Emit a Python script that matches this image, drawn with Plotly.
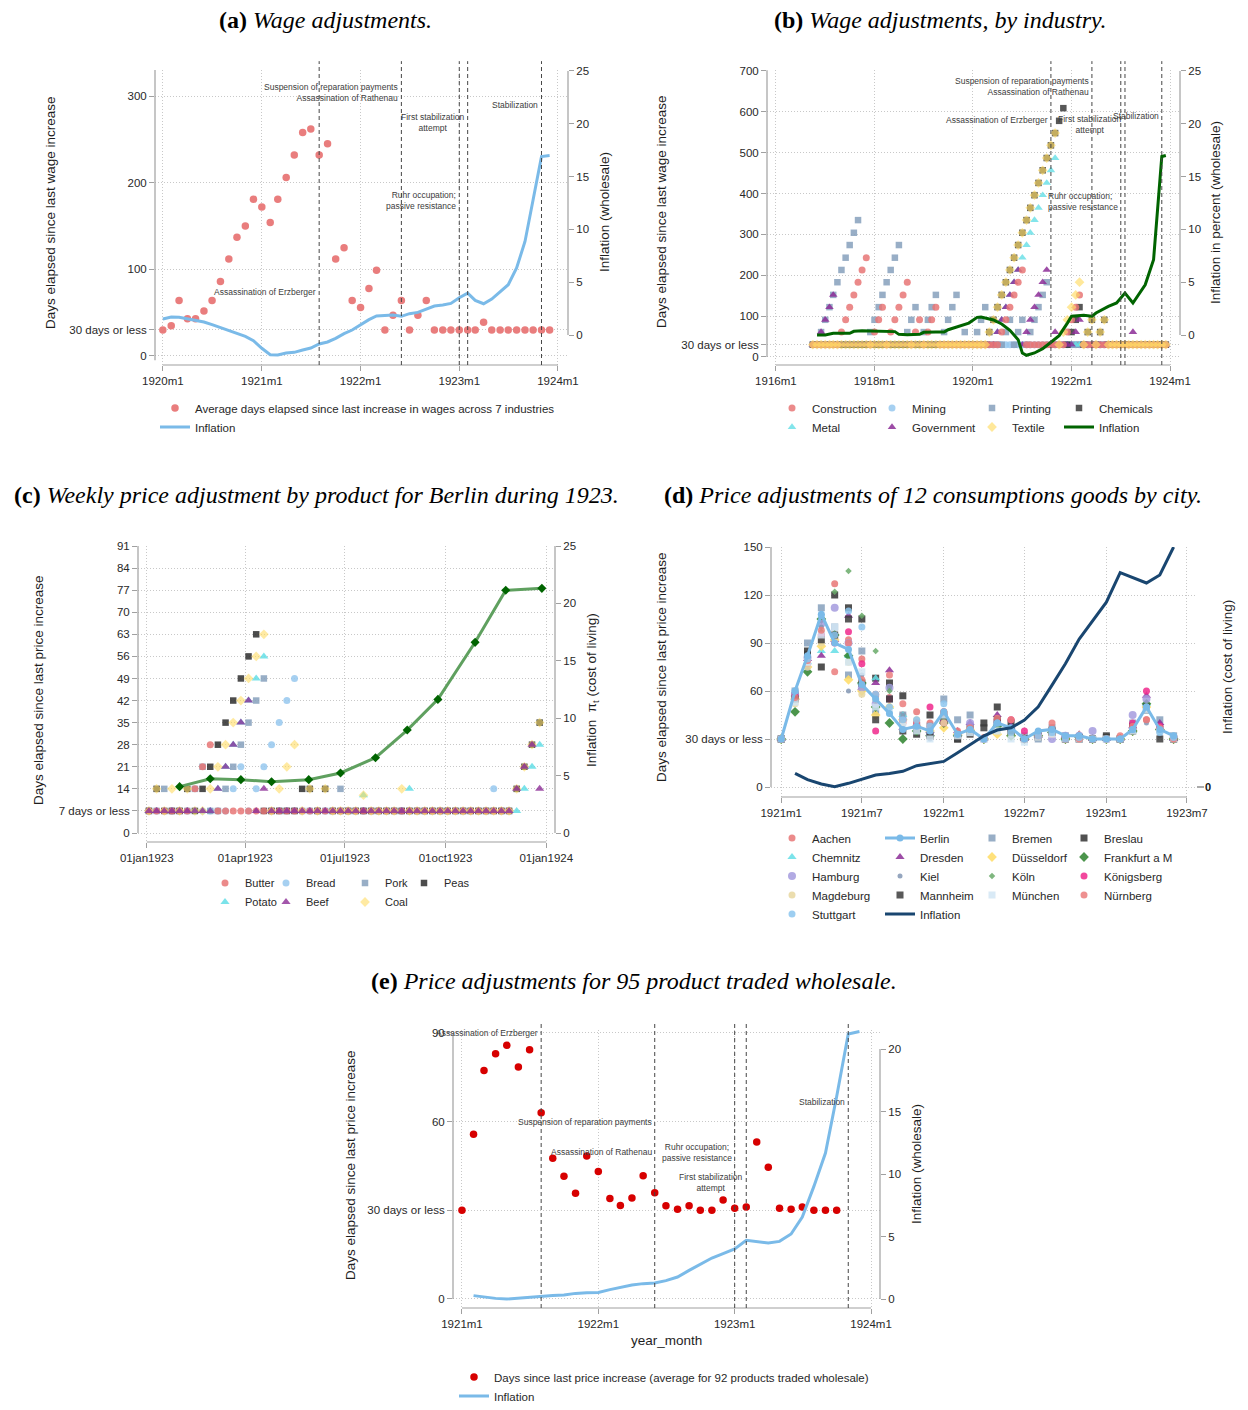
import plotly.graph_objects as go
import pandas as pd

# The page body adds an 8px margin, so the figure is drawn 8px smaller and
# every reference pixel position is shifted by that margin.
OFF = 8
W, H = 1248 - 2 * OFF, 1410 - 2 * OFF
def px(x): return (x - OFF) / W
def py(y): return 1 - (y - OFF) / H

FONT = 'Liberation Sans'
SERIF = 'Liberation Serif'
TXT = 'rgb(40,40,40)'
GRID = 'rgb(200,200,200)'
GRIDDASH = '1px,2px'
AXC = 'rgb(160,160,160)'
EVC = 'rgb(70,70,70)'

# ======================= (a) Wage adjustments =======================
months_a = pd.date_range('1920-01-01', periods=48, freq='MS')
wage_days_a = [30, 35, 64, 43, 43, 52, 64, 86, 112, 137,
               150, 181, 172, 154, 181, 206, 232, 258, 262, 232,
               245, 112, 125, 64, 56, 78, 99, 30, 47, 64,
               30, 47, 64, 30, 30, 30, 30, 30, 30, 39,
               30, 30, 30, 30, 30, 30, 30, 30]
inflation_a = [1.51, 1.70, 1.67, 1.54, 1.39, 1.23, 0.98, 0.69, 0.44, 0.16,
               -0.13, -0.54, -1.26, -1.86, -1.89, -1.70, -1.64, -1.42, -1.23, -0.85,
               -0.66, -0.32, 0.13, 0.47, 0.98, 1.45, 1.80, 1.86, 1.89, 1.77,
               2.02, 2.14, 2.46, 2.74, 2.84, 2.99, 3.53, 3.97, 3.28, 2.96,
               3.40, 4.10, 4.76, 6.34, 8.86, 12.8, 16.9, 17.0]

# ======================= (b) Wage adjustments by industry =======================
months_b = pd.date_range('1916-10-01', periods=87, freq='MS')
construction_b = [30, 30, 30,
                  30, 30, 30, 30, 61, 91, 122, 152, 183, 213, 243, 30,
                  61, 91, 122, 30, 61, 91, 122, 152, 183, 30, 61, 91,
                  30, 61, 91, 122, 30, 30, 30, 30, 30, 30, 30, 30,
                  30, 30, 30, 30, 30, 30, 30, 61, 91, 122, 152, 183,
                  213, 30, 30, 30, 30, 30, 30, 30, 30, 30, 30, 61,
                  91, 122, 152, 30, 30, 30, 30, 30, 30, 30, 30, 30,
                  30, 30, 30, 30, 30, 30, 30, 30, 30, 30, 30, 30]
mining_b = [30, 30, 30,
            30, 30, 30, 30, 30, 30, 30, 30, 30, 30, 30, 30,
            30, 30, 30, 30, 30, 30, 30, 30, 30, 30, 30, 30,
            30, 30, 30, 30, 30, 30, 30, 30, 30, 30, 30, 30,
            30, 30, 30, 30, 30, 30, 30, 30, 30, 30, 30, 30,
            30, 30, 30, 30, 30, 30, 30, 30, 30, 30, 30, 30,
            30, 30, 30, 30, 30, 30, 30, 30, 30, 30, 30, 30,
            30, 30, 30, 30, 30, 30, 30, 30, 30, 30, 30, 30]
printing_b = [30, 30, 61,
              91, 122, 152, 183, 213, 243, 274, 304, 335, 30, 30, 61,
              91, 122, 152, 183, 213, 243, 274, 30, 61, 91, 122, 30,
              61, 91, 122, 152, 30, 61, 91, 122, 152, 30, 61, 30,
              30, 61, 91, 122, 30, 30, 30, 30, 61, 91, 30, 61,
              91, 30, 61, 91, 122, 152, 183, 30, 30, 30, 30, 30,
              30, 30, 30, 30, 30, 30, 30, 30, 30, 30, 30, 30,
              30, 30, 30, 30, 30, 30, 30, 30, 30, 30, 30, 30]
chemicals_b = [30, 30, 30,
               30, 30, 30, 30, 30, 30, 30, 30, 30, 30, 30, 30,
               30, 30, 30, 30, 30, 30, 30, 30, 30, 30, 30, 30,
               30, 30, 30, 30, 30, 30, 30, 30, 30, 30, 30, 30,
               30, 30, 30, 30, 61, 91, 122, 152, 183, 213, 243, 274,
               304, 335, 365, 396, 426, 457, 487, 518, 548, 578, 609, 30,
               61, 91, 122, 30, 61, 91, 30, 61, 91, 30, 30, 30,
               30, 30, 30, 30, 30, 30, 30, 30, 30, 30, 30, 30]
metal_b = [30, 30, 30,
           30, 30, 30, 30, 30, 30, 30, 30, 30, 30, 30, 30,
           30, 30, 30, 30, 30, 30, 30, 30, 30, 30, 30, 30,
           30, 30, 30, 30, 30, 30, 30, 30, 30, 30, 30, 30,
           30, 30, 30, 30, 30, 30, 61, 91, 122, 152, 183, 213,
           243, 274, 304, 335, 365, 396, 426, 457, 487, 30, 30, 30,
           30, 30, 30, 30, 30, 30, 30, 30, 30, 30, 30, 30,
           30, 30, 30, 30, 30, 30, 30, 30, 30, 30, 30, 30]
government_b = [30, 30, 61,
                91, 122, 152, 30, 30, 30, 30, 30, 30, 30, 30, 30,
                30, 30, 30, 30, 30, 30, 30, 30, 30, 30, 30, 30,
                30, 30, 30, 30, 30, 30, 30, 30, 30, 30, 30, 30,
                30, 30, 30, 30, 30, 30, 61, 91, 122, 152, 183, 213,
                30, 61, 91, 122, 152, 183, 213, 30, 61, 30, 30, 30,
                30, 61, 91, 30, 30, 30, 30, 30, 30, 30, 30, 30,
                30, 30, 30, 61, 30, 30, 30, 30, 30, 30, 30, 30]
textile_b = [30, 30, 30,
             30, 30, 30, 30, 30, 30, 30, 30, 30, 30, 30, 30,
             30, 30, 30, 30, 30, 30, 30, 30, 30, 30, 30, 30,
             30, 30, 30, 30, 30, 30, 30, 30, 30, 30, 30, 30,
             30, 30, 30, 30, 61, 91, 122, 152, 183, 213, 243, 274,
             304, 335, 365, 396, 426, 457, 487, 518, 548, 30, 61, 91,
             122, 152, 183, 30, 61, 91, 30, 61, 91, 30, 30, 30,
             30, 30, 30, 30, 30, 30, 30, 30, 30, 30, 30, 30]
infl_dates_b = ['1916-11-01', '1917-01-01', '1917-03-01', '1917-05-01', '1917-07-01',
                '1917-08-01', '1917-10-01', '1917-12-01', '1918-03-01', '1918-06-01',
                '1918-07-01', '1918-09-01', '1918-12-01', '1919-01-01', '1919-04-01',
                '1919-06-01', '1919-07-01', '1919-10-01', '1919-12-01', '1920-02-01',
                '1920-03-01', '1920-06-01', '1920-08-01', '1920-10-01', '1920-12-01',
                '1921-01-01', '1921-02-01', '1921-04-01', '1921-06-01', '1921-08-01',
                '1921-10-01', '1921-12-01', '1922-01-01', '1922-04-01', '1922-06-01',
                '1922-07-01', '1922-10-01', '1922-12-01', '1923-02-01', '1923-04-01',
                '1923-07-01', '1923-09-01', '1923-10-01', '1923-11-01', '1923-12-01']
infl_b = [0.0, 0.0, 0.16, 0.13, 0.16, 0.35, 0.41, 0.38, 0.35, 0.32,
          0.06, 0.03, 0.06, 0.25, 0.28, 0.28, 0.5, 0.88, 1.13, 1.67,
          1.70, 1.42, 1.04, 0.44, -0.44, -1.70, -1.92, -1.70, -1.29, -0.69,
          -0.06, 1.13, 1.77, 1.86, 1.77, 2.08, 2.71, 3.03, 3.97, 3.03,
          4.76, 7.12, 11.85, 16.9, 17.0]

# ======================= (c) Weekly prices, Berlin 1923 =======================
weeks_c = pd.date_range('1923-01-03', periods=52, freq='7D')
N = None
butter_c = [7, 7, 7, 7, 7, 7, 14, 21, 28, 7, 7, 7, 7,
            7, 7, 7, 7, 7, 7, 7, 7, 7, 7, 7, 7, 7,
            7, 7, 7, 7, 7, 7, 7, 7, 7, 7, 7, 7, 7,
            7, 7, 7, 7, 7, 7, 7, 7, 7, N, N, N, N]
bread_c = [7, 7, 7, 7, 7, 7, 7, 7, 7, 7, 7, 14, 21,
           7, 14, 21, 28, 35, 42, 49, 7, 7, 7, 7, 7, 7,
           7, 7, 7, 7, 7, 7, 7, 7, 7, 7, 7, 7, 7,
           7, 7, 7, 7, 7, 7, 14, 7, 7, N, N, N, 35]
pork_c = [7, 7, 14, 7, 7, 7, 14, 21, 7, 7, 14, 21, 28,
          35, 42, 49, 7, 7, 7, 7, 7, 7, 7, 7, 7, 14,
          7, 7, 7, 7, 7, 7, 7, 7, 7, 7, 7, 7, 7,
          7, 7, 7, 7, 7, 7, 7, 7, 7, N, N, N, N]
peas_c = [7, 14, 7, 7, 7, 14, 7, 14, 21, 28, 35, 42, 49,
          56, 63, 7, 7, 7, 7, 7, 14, 14, 7, 14, 7, 7,
          7, 7, 7, 7, 7, 7, 7, 7, 7, 7, 7, 7, 7,
          7, 7, 7, 7, 7, 7, 7, 7, 7, 14, 21, 28, 35]
potato_c = [7, 7, 7, 7, 7, 7, 7, 7, 7, 14, 21, 28, 35,
            42, 49, 56, 7, 7, 7, 7, 7, 7, 7, 7, 7, 7,
            7, 7, 12, 7, 7, 7, 7, 7, 14, 7, 7, 7, 7,
            7, 7, 7, 7, 7, 7, 7, 7, 7, 7, 14, 21, 28]
beef_c = [7, 7, 7, 7, 7, 7, 7, 7, 7, 14, 21, 28, 35,
          42, 7, 14, 7, 7, 7, 7, 7, 7, 7, 7, 7, 7,
          7, 7, 7, 7, 7, 7, 7, 7, 7, 7, 7, 7, 7,
          7, 7, 7, 7, 7, 7, 7, 7, 7, 14, 21, 28, 14]
coal_c = [7, 14, 7, 14, 7, 14, 7, 7, 14, 21, 28, 35, 42,
          49, 56, 63, 7, 14, 21, 28, 7, 14, 7, 14, 7, 7,
          7, 7, 12, 7, 7, 7, 7, 14, 7, 7, 7, 7, 7,
          7, 7, 7, 7, 7, 7, 7, 7, 7, 14, 21, 28, 35]
infl_dates_c = ['1923-01-31', '1923-02-28', '1923-03-28', '1923-04-25', '1923-05-29',
                '1923-06-27', '1923-07-29', '1923-08-27', '1923-09-24', '1923-10-28',
                '1923-11-25', '1923-12-28']
infl_c = [4.04, 4.73, 4.65, 4.47, 4.65, 5.23, 6.56, 8.97, 11.64, 16.61, 21.14, 21.31]

# ======================= (d) 12 consumption goods by city =======================
months_d = pd.date_range('1921-01-01', periods=30, freq='MS')
aachen_d = [30, 55, 78, 95, 127, 92, 80, 58, 56, 45, 47, 40, 47, 32, 36, 30, 42, 37, 30, 33, 37, 30, 30, 30, 30, 30, 36, 42, 35, 30]
berlin_d = [30, 60, 82, 108, 90, 86, 64, 55, 46, 36, 38, 35, 47, 33, 36, 30, 40, 37, 30, 35, 36, 32, 32, 30, 30, 30, 36, 50, 36, 32]
bremen_d = [30, 60, 90, 112, 100, 70, 85, 47, 55, 45, 40, 38, 55, 42, 45, 30, 40, 35, 32, 30, 37, 32, 30, 30, 30, 30, 40, 50, 42, 32]
breslau_d = [30, 57, 85, 75, 120, 112, 105, 68, 65, 57, 33, 45, 42, 30, 37, 40, 50, 40, 30, 32, 35, 30, 30, 30, 32, 30, 38, 48, 37, 30]
chemnitz_d = [30, 58, 78, 85, 85, 82, 65, 68, 50, 45, 38, 35, 45, 33, 36, 30, 40, 37, 30, 32, 35, 30, 32, 30, 30, 30, 35, 52, 37, 30]
dresden_d = [30, 56, 80, 82, 92, 107, 62, 65, 73, 37, 38, 35, 42, 35, 40, 30, 45, 38, 30, 32, 35, 32, 33, 30, 30, 30, 38, 57, 40, 30]
duesseldorf_d = [30, 55, 75, 88, 92, 67, 60, 45, 50, 42, 38, 35, 37, 33, 36, 30, 33, 32, 30, 32, 35, 30, 32, 30, 30, 30, 35, 50, 36, 30]
frankfurt_d = [30, 47, 72, 105, 95, 82, 65, 50, 40, 30, 35, 32, 40, 32, 35, 30, 38, 32, 30, 32, 34, 30, 31, 30, 30, 30, 35, 52, 36, 30]
hamburg_d = [30, 58, 81, 102, 112, 90, 62, 52, 62, 42, 38, 33, 45, 32, 40, 30, 40, 36, 30, 32, 30, 32, 32, 35, 30, 30, 45, 55, 36, 31]
kiel_d = [30, 54, 74, 100, 92, 60, 70, 55, 62, 45, 38, 30, 40, 30, 35, 30, 38, 32, 30, 31, 33, 30, 30, 30, 30, 30, 35, 40, 32, 30]
koeln_d = [30, 55, 80, 97, 122, 135, 107, 85, 60, 40, 37, 32, 42, 32, 36, 30, 38, 33, 30, 32, 33, 30, 31, 30, 30, 30, 36, 50, 34, 30]
koenigsberg_d = [30, 57, 77, 95, 90, 97, 77, 35, 55, 40, 40, 50, 40, 33, 36, 30, 42, 42, 35, 32, 33, 30, 31, 30, 30, 30, 40, 60, 38, 30]
magdeburg_d = [30, 52, 75, 90, 92, 78, 58, 55, 50, 40, 42, 35, 40, 32, 35, 30, 35, 34, 30, 31, 33, 30, 30, 30, 30, 30, 35, 50, 35, 30]
mannheim_d = [30, 55, 83, 92, 95, 105, 65, 42, 55, 35, 36, 32, 45, 30, 33, 37, 42, 35, 30, 31, 34, 30, 31, 30, 31, 30, 35, 50, 30, 30]
muenchen_d = [30, 53, 78, 95, 100, 78, 72, 50, 47, 38, 35, 30, 45, 32, 34, 30, 35, 30, 28, 31, 33, 30, 30, 30, 30, 30, 35, 48, 35, 30]
nuernberg_d = [30, 56, 79, 98, 72, 90, 67, 57, 70, 52, 40, 38, 47, 35, 37, 31, 43, 42, 30, 32, 40, 30, 30, 30, 30, 32, 38, 42, 37, 30]
stuttgart_d = [30, 60, 80, 107, 95, 110, 100, 58, 50, 42, 42, 38, 52, 33, 36, 30, 40, 34, 30, 32, 34, 30, 31, 30, 30, 30, 36, 50, 34, 31]
infl_months_d = pd.date_range('1921-02-01', periods=29, freq='MS')
infl_d = [8.5, 4.6, 1.9, 0.2, 2.3, 5.0, 7.5, 8.5, 9.8, 13.3,
          14.8, 16.0, 21.4, 26.6, 32.0, 35.6, 37.0, 41.8, 50.1, 63.7,
          77.0, 92.5, 103.5, 115.5, 134.0, 131.0, 127.5, 132.5, 150.0]

# ======================= (e) 95 products traded wholesale =======================
months_e = pd.date_range('1921-01-01', periods=34, freq='MS')
days_e = [30.0, 55.7, 77.3, 83.0, 85.8, 78.5, 84.3, 63.0, 47.6, 41.5,
          35.8, 48.4, 43.1, 34.0, 31.6, 34.2, 41.7, 35.9, 31.5, 30.4,
          31.5, 30.0, 30.0, 33.5, 30.7, 31.1, 53.1, 44.6, 30.7, 30.4,
          31.1, 30.0, 30.0, 30.0]
infl_months_e = pd.date_range('1921-02-01', periods=35, freq='MS')
infl_e = [0.27, 0.16, 0.05, 0.0, 0.08, 0.16, 0.27, 0.29, 0.32, 0.45,
          0.51, 0.53, 0.75, 0.93, 1.12, 1.23, 1.28, 1.47, 1.76, 2.29,
          2.75, 3.28, 3.63, 4.0, 4.69, 4.61, 4.48, 4.61, 5.2, 6.56,
          9.01, 11.68, 16.2, 21.2, 21.4]

events = ['1921-08-01', '1922-06-01', '1923-01-01', '1923-02-01', '1923-11-01']

# ---------------------------------------------------------------------------
fig = go.Figure()

def mk(color, symbol='circle', size=7, opacity=0.85):
    return dict(color=color, symbol=symbol, size=size, opacity=opacity, line=dict(width=0))

def add(x, y, name, xa, ya, lg, mode='markers', marker=None, line=None, rank=None):
    kw = dict(x=x, y=y, name=name, mode=mode, xaxis=xa, yaxis=ya, legend=lg,
              cliponaxis=False, hoverinfo='skip')
    if marker is not None:
        kw['marker'] = marker
    if line is not None:
        kw['line'] = line
    if rank is not None:
        kw['legendrank'] = rank
    fig.add_trace(go.Scatter(**kw))

C_RED = 'rgb(232,118,118)'
C_LBLUE = 'rgb(122,186,232)'
C_SLATE = 'rgb(134,160,188)'
C_BLACK = 'rgb(45,45,45)'
C_CYAN = 'rgb(100,222,230)'
C_PURPLE = 'rgb(140,45,150)'
C_YELLOW = 'rgb(255,220,100)'
C_MINING = 'rgb(150,200,238)'

# (a)
add(months_a, wage_days_a, 'Average days elapsed since last increase in wages across 7 industries',
    'x', 'y', 'legend', marker=mk(C_RED, size=7.5, opacity=0.95))
add(months_a, inflation_a, 'Inflation', 'x', 'y2', 'legend', mode='lines',
    line=dict(color=C_LBLUE, width=3))

# (b)  (drawing order chosen so the 30-day band mixes like the original)
add(months_b, mining_b, 'Mining', 'x2', 'y3', 'legend3', marker=mk(C_MINING, size=7, opacity=0.85), rank=1)
add(months_b, printing_b, 'Printing', 'x2', 'y3', 'legend4', marker=mk(C_SLATE, 'square', 6.5, 0.85), rank=1)
add(months_b, metal_b, 'Metal', 'x2', 'y3', 'legend2', marker=mk(C_CYAN, 'triangle-up', 7.5, 0.8), rank=2)
add(months_b, chemicals_b, 'Chemicals', 'x2', 'y3', 'legend5', marker=mk(C_BLACK, 'square', 6.5, 0.8), rank=1)
add(months_b, government_b, 'Government', 'x2', 'y3', 'legend3', marker=mk(C_PURPLE, 'triangle-up', 7.5, 0.85), rank=2)
add(months_b, construction_b, 'Construction', 'x2', 'y3', 'legend2', marker=mk(C_RED, size=7, opacity=0.85), rank=1)
add(months_b, textile_b, 'Textile', 'x2', 'y3', 'legend4', marker=mk(C_YELLOW, 'diamond', 7.5, 0.65), rank=2)
add(infl_dates_b, infl_b, 'Inflation', 'x2', 'y4', 'legend5', mode='lines',
    line=dict(color='rgb(0,100,0)', width=3), rank=2)

# (c)
add(weeks_c, bread_c, 'Bread', 'x3', 'y5', 'legend7', marker=mk(C_MINING, size=7, opacity=0.85), rank=1)
add(weeks_c, pork_c, 'Pork', 'x3', 'y5', 'legend8', marker=mk(C_SLATE, 'square', 6.5, 0.85), rank=1)
add(weeks_c, peas_c, 'Peas', 'x3', 'y5', 'legend9', marker=mk(C_BLACK, 'square', 6.5, 0.85), rank=1)
add(weeks_c, potato_c, 'Potato', 'x3', 'y5', 'legend6', marker=mk(C_CYAN, 'triangle-up', 8, 0.85), rank=2)
add(weeks_c, butter_c, 'Butter', 'x3', 'y5', 'legend6', marker=mk(C_RED, size=7, opacity=0.85), rank=1)
add(weeks_c, coal_c, 'Coal', 'x3', 'y5', 'legend8', marker=mk(C_YELLOW, 'diamond', 7.5, 0.6), rank=2)
add(weeks_c, beef_c, 'Beef', 'x3', 'y5', 'legend7', marker=mk(C_PURPLE, 'triangle-up', 8, 0.8), rank=2)
fig.add_trace(go.Scatter(x=infl_dates_c, y=infl_c, name='Inflation', mode='lines+markers',
                         xaxis='x3', yaxis='y6', showlegend=False, cliponaxis=False, hoverinfo='skip',
                         line=dict(color='rgb(95,160,95)', width=3),
                         marker=dict(color='rgb(0,100,0)', symbol='diamond', size=7, line=dict(width=0))))

# (d)
cities = [
    ('Aachen', aachen_d, C_RED, 'circle', 7, 'legend10', 1),
    ('Bremen', bremen_d, C_SLATE, 'square', 7, 'legend12', 1),
    ('Breslau', breslau_d, 'rgb(50,50,50)', 'square', 7, 'legend13', 1),
    ('Chemnitz', chemnitz_d, C_CYAN, 'triangle-up', 8, 'legend10', 2),
    ('Dresden', dresden_d, C_PURPLE, 'triangle-up', 8, 'legend11', 2),
    ('Düsseldorf', duesseldorf_d, C_YELLOW, 'diamond', 7.5, 'legend12', 2),
    ('Frankfurt a M', frankfurt_d, 'rgb(45,130,45)', 'diamond', 7.5, 'legend13', 2),
    ('Hamburg', hamburg_d, 'rgb(165,155,222)', 'circle', 8, 'legend10', 3),
    ('Kiel', kiel_d, 'rgb(130,150,180)', 'circle', 5, 'legend11', 3),
    ('Köln', koeln_d, 'rgb(105,170,105)', 'diamond', 5, 'legend12', 3),
    ('Königsberg', koenigsberg_d, 'rgb(240,40,140)', 'circle', 7, 'legend13', 3),
    ('Magdeburg', magdeburg_d, 'rgb(232,215,160)', 'circle', 7, 'legend10', 4),
    ('Mannheim', mannheim_d, 'rgb(60,60,60)', 'square', 7, 'legend11', 4),
    ('München', muenchen_d, 'rgb(210,230,245)', 'square', 7, 'legend12', 4),
    ('Nürnberg', nuernberg_d, 'rgb(235,125,125)', 'circle', 7, 'legend13', 4),
    ('Stuttgart', stuttgart_d, 'rgb(140,198,238)', 'circle', 7, 'legend10', 5),
]
for name, vals, col, sym, size, lg, rk in cities:
    add(months_d, vals, name, 'x4', 'y7', lg, marker=mk(col, sym, size, 0.85), rank=rk)
add(months_d, berlin_d, 'Berlin', 'x4', 'y7', 'legend11', mode='lines+markers',
    marker=dict(color=C_LBLUE, size=7, line=dict(width=0)), line=dict(color=C_LBLUE, width=3), rank=1)
add(infl_months_d, infl_d, 'Inflation', 'x4', 'y7', 'legend11', mode='lines',
    line=dict(color='rgb(25,70,112)', width=3), rank=5)

# (e)
add(months_e, days_e, 'Days since last price increase (average for 92 products traded wholesale)',
    'x5', 'y8', 'legend14', marker=mk('rgb(215,0,0)', size=7.5, opacity=1.0))
add(infl_months_e, infl_e, 'Inflation', 'x5', 'y9', 'legend14', mode='lines',
    line=dict(color=C_LBLUE, width=3))

# ---------------------------------------------------------------------------
TICKFONT = dict(family=FONT, size=11.5, color=TXT)

def xax(dom, rng, vals, texts, anchor):
    return dict(domain=[px(dom[0]), px(dom[1])], range=rng, type='date', tickmode='array',
                tickvals=vals, ticktext=texts, anchor=anchor, showgrid=True, gridcolor=GRID,
                griddash=GRIDDASH, gridwidth=1, zeroline=False, showline=False, ticks='outside',
                ticklen=5, tickwidth=1, tickcolor=AXC, tickfont=TICKFONT, fixedrange=True,
                automargin=False)

def yax(dom, rng, vals, texts, anchor, side='left', overlaying=None, grid=True):
    d = dict(range=rng, tickmode='array', tickvals=vals, ticktext=texts, anchor=anchor,
             side=side, showgrid=grid, gridcolor=GRID, griddash=GRIDDASH, gridwidth=1,
             zeroline=False, showline=False, ticks='outside', ticklen=5, tickwidth=1,
             tickcolor=AXC, tickfont=TICKFONT, fixedrange=True, automargin=False)
    if overlaying:
        d['overlaying'] = overlaying
    else:
        d['domain'] = [py(dom[0]), py(dom[1])]
    return d

yr = ['1920-01-01', '1921-01-01', '1922-01-01', '1923-01-01', '1924-01-01']
layout = dict(
    width=W, height=H, margin=dict(l=0, r=0, t=0, b=0, pad=0, autoexpand=False),
    paper_bgcolor='white', plot_bgcolor='white',
    font=dict(family=FONT, color=TXT), hovermode=False,
    # (a)
    xaxis=xax((155, 568), ['1919-12-03', '1924-02-07'], yr, ['1920m1', '1921m1', '1922m1', '1923m1', '1924m1'], 'y'),
    yaxis=yax((365, 70), [-10.4, 330], [0, 30, 100, 200, 300], ['0', '30 days or less', '100', '200', '300'], 'x'),
    yaxis2=yax(None, [-2.84, 25.09], [0, 5, 10, 15, 20, 25], ['0', '5', '10', '15', '20', '25'], 'x', 'right', 'y', False),
    # (b)
    xaxis2=xax((767, 1180), ['1915-10-27', '1924-03-15'],
               ['1916-01-01', '1918-01-01', '1920-01-01', '1922-01-01', '1924-01-01'],
               ['1916m1', '1918m1', '1920m1', '1922m1', '1924m1'], 'y3'),
    yaxis3=yax((365, 70), [-19.6, 702.4], [0, 30, 100, 200, 300, 400, 500, 600, 700],
               ['0', '30 days or less', '100', '200', '300', '400', '500', '600', '700'], 'x2'),
    yaxis4=yax(None, [-2.84, 25.09], [0, 5, 10, 15, 20, 25], ['0', '5', '10', '15', '20', '25'], 'x2', 'right', 'y3', False),
    # (c)
    xaxis3=xax((138, 555), ['1922-12-24', '1924-01-09'],
               ['1923-01-01', '1923-04-01', '1923-07-01', '1923-10-01', '1924-01-01'],
               ['01jan1923', '01apr1923', '01jul1923', '01oct1923', '01jan1924'], 'y5'),
    yaxis5=yax((842, 546), [-2.85, 91], [0, 7, 14, 21, 28, 35, 42, 49, 56, 63, 70, 77, 84, 91],
               ['0', '7 days or less', '14', '21', '28', '35', '42', '49', '56', '63', '70', '77', '84', '91'], 'x3'),
    yaxis6=yax(None, [-0.78, 25], [0, 5, 10, 15, 20, 25], ['0', '5', '10', '15', '20', '25'], 'x3', 'right', 'y5', False),
    # (d)
    xaxis4=xax((771, 1195), ['1920-12-09', '1923-07-19'],
               ['1921-01-01', '1921-07-01', '1922-01-01', '1922-07-01', '1923-01-01', '1923-07-01'],
               ['1921m1', '1921m7', '1922m1', '1922m7', '1923m1', '1923m7'], 'y7'),
    yaxis7=yax((797, 547), [-6.25, 150], [0, 30, 60, 90, 120, 150],
               ['0', '30 days or less', '60', '90', '120', '150'], 'x4'),
    # (e)
    xaxis5=xax((453, 880), ['1920-12-08', '1924-01-25'],
               ['1921-01-01', '1922-01-01', '1923-01-01', '1924-01-01'],
               ['1921m1', '1922m1', '1923m1', '1924m1'], 'y8'),
    yaxis8=yax((1308, 1030), [-3.05, 91.0], [0, 30, 60, 90], ['0', '30 days or less', '60', '90'], 'x5'),
    yaxis9=yax(None, [-0.72, 21.52], [0, 5, 10, 15, 20], ['0', '5', '10', '15', '20'], 'x5', 'right', 'y8', False),
)

def leg(left_x, row1_y, size=11.5):
    return dict(x=px(left_x), y=py(row1_y - 14.5), xanchor='left', yanchor='top',
                orientation='v', bgcolor='rgba(0,0,0,0)', borderwidth=0,
                font=dict(family=FONT, size=size, color=TXT), itemwidth=30, tracegroupgap=0,
                itemclick=False, itemdoubleclick=False)

layout['legend'] = leg(155, 408)
layout['legend2'] = leg(772, 408)
layout['legend3'] = leg(872, 408)
layout['legend4'] = leg(972, 408)
layout['legend5'] = leg(1059, 408)
layout['legend6'] = leg(205, 883, 11)
layout['legend7'] = leg(266, 883, 11)
layout['legend8'] = leg(345, 883, 11)
layout['legend9'] = leg(404, 883, 11)
layout['legend10'] = leg(772, 838)
layout['legend11'] = leg(880, 838)
layout['legend12'] = leg(972, 838)
layout['legend13'] = leg(1064, 838)
layout['legend14'] = leg(454, 1377)

# ---------------------------------------------------------------------------
shapes = []
AXLINE = dict(color=AXC, width=1.2)

def axis_lines(xa, yl, yr_, x0, x1, yl_rng, yr_rng):
    shapes.append(dict(type='line', xref=xa, yref=yl + ' domain', x0=x0, x1=x1, y0=0, y1=0, line=AXLINE))
    shapes.append(dict(type='line', xref=xa + ' domain', yref=yl, x0=0, x1=0, y0=yl_rng[0], y1=yl_rng[1], line=AXLINE))
    if yr_:
        shapes.append(dict(type='line', xref=xa + ' domain', yref=yr_, x0=1, x1=1, y0=yr_rng[0], y1=yr_rng[1], line=AXLINE))

axis_lines('x', 'y', 'y2', '1920-01-01', '1924-01-01', (-5, 330), (0, 25))
axis_lines('x2', 'y3', 'y4', '1916-01-01', '1924-01-01', (0, 702), (0, 25))
axis_lines('x3', 'y5', 'y6', '1923-01-01', '1924-01-01', (0, 91), (0, 25))
axis_lines('x4', 'y7', None, '1921-01-01', '1923-07-01', (0, 150), None)
axis_lines('x5', 'y8', 'y9', '1921-01-01', '1924-01-01', (0, 90), (0, 20))

for xa, yl in (('x', 'y'), ('x2', 'y3'), ('x5', 'y8')):
    for ev in events:
        shapes.append(dict(type='line', xref=xa, yref=yl + ' domain', x0=ev, x1=ev, y0=0, y1=1.03,
                           line=dict(color=EVC, width=1, dash='4px,3px')))

# collapsed right-axis labels of panel (d)
shapes.append(dict(type='line', xref='paper', yref='paper', x0=px(1197), x1=px(1204), y0=py(787), y1=py(787),
                   line=dict(color='rgb(170,170,170)', width=2)))
layout['shapes'] = shapes

# ---------------------------------------------------------------------------
ann = []
EVFONT = dict(family=FONT, size=8.5, color='rgb(60,60,60)')

def ev_label(xa, date, ypix, text, align='right'):
    ann.append(dict(xref=xa, yref='paper', x=date, y=py(ypix), text=text, showarrow=False,
                    xanchor='right', yanchor='middle', align=align, font=EVFONT, xshift=-1))

# (a)
ev_label('x', '1922-06-01', 92.5, 'Suspension of reparation payments<br>Assassination of Rathenau')
ev_label('x', '1921-08-01', 292, 'Assassination of Erzberger')
ev_label('x', '1923-02-01', 122.5, 'First stabilization<br>attempt', 'center')
ev_label('x', '1923-01-01', 201, 'Ruhr occupation;<br>passive resistance')
ev_label('x', '1923-11-01', 105, 'Stabilization')
# (b)
ev_label('x2', '1922-06-01', 87, 'Suspension of reparation payments<br>Assassination of Rathenau')
ev_label('x2', '1921-08-01', 120, 'Assassination of Erzberger')
ev_label('x2', '1923-02-01', 124, 'First stabilization<br>attempt', 'center')
ev_label('x2', '1923-01-01', 201.5, 'Ruhr occupation;<br>passive resistance', 'left')
ev_label('x2', '1923-11-01', 116, 'Stabilization')
# (e)
ev_label('x5', '1921-08-01', 1033, 'Assassination of Erzberger')
ev_label('x5', '1922-06-01', 1122, 'Suspension of reparation payments')
ev_label('x5', '1922-06-01', 1152, 'Assassination of Rathenau')
ev_label('x5', '1923-01-01', 1152.5, 'Ruhr occupation;<br>passive resistance', 'center')
ev_label('x5', '1923-02-01', 1182, 'First stabilization<br>attempt', 'center')
ev_label('x5', '1923-11-01', 1102, 'Stabilization')

# panel titles
TFONT = dict(family=SERIF, size=24, color='black')
for xc, yc, lab, txt in ((325, 19.5, '(a)', 'Wage adjustments.'),
                         (940, 19.5, '(b)', 'Wage adjustments, by industry.'),
                         (316, 495, '(c)', 'Weekly price adjustment by product for Berlin during 1923.'),
                         (933, 495, '(d)', 'Price adjustments of 12 consumptions goods by city.'),
                         (634, 981, '(e)', 'Price adjustments for 95 product traded wholesale.')):
    ann.append(dict(xref='paper', yref='paper', x=px(xc), y=py(yc), showarrow=False,
                    xanchor='center', yanchor='middle', font=TFONT, borderpad=0,
                    text='<b>' + lab + '</b> <i>' + txt + '</i>'))

# axis titles
AFONT = dict(family=FONT, size=13.5, color='rgb(30,30,30)')
for xc, yc, txt in ((50, 213, 'Days elapsed since last wage increase'),
                    (604, 212, 'Inflation (wholesale)'),
                    (661, 212, 'Days elapsed since last wage increase'),
                    (1215, 213, 'Inflation in percent (wholesale)'),
                    (38, 690, 'Days elapsed since last price increase'),
                    (592, 690, 'Inflation  π<sub>t</sub> (cost of living)'),
                    (662, 667, 'Days elapsed since last price increase'),
                    (1228, 667, 'Inflation (cost of living)'),
                    (350, 1165, 'Days elapsed since last price increase'),
                    (916, 1164, 'Inflation (wholesale)')):
    ann.append(dict(xref='paper', yref='paper', x=px(xc), y=py(yc), showarrow=False, textangle=-90,
                    xanchor='center', yanchor='middle', font=AFONT, text=txt))
ann.append(dict(xref='paper', yref='paper', x=px(666), y=py(1340), showarrow=False,
                xanchor='center', yanchor='middle', font=dict(family=FONT, size=13.5, color='rgb(30,30,30)'),
                text='year_month'))
ann.append(dict(xref='paper', yref='paper', x=px(1208), y=py(787), showarrow=False,
                xanchor='center', yanchor='middle', font=dict(family=FONT, size=11, color='rgb(20,20,20)'),
                text='<b>0</b>'))
layout['annotations'] = ann

fig.update_layout(**layout)
fig.write_html('out.html', config={'displayModeBar': False, 'staticPlot': True})
